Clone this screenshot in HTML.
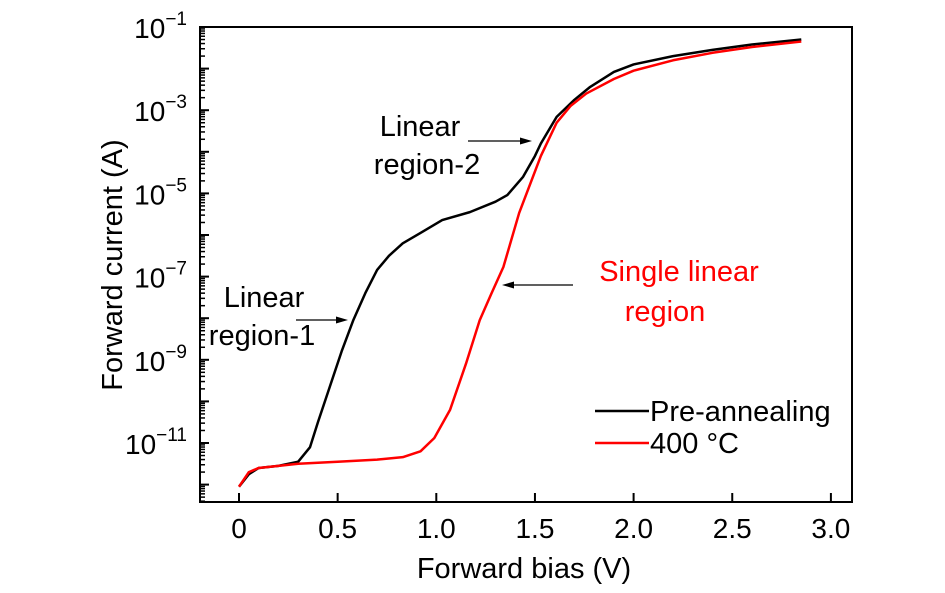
<!DOCTYPE html>
<html><head><meta charset="utf-8"><style>
body{margin:0;background:#fff;}
svg text{font-family:"Liberation Sans",sans-serif;}
</style></head><body>
<svg id="chart" width="945" height="588" xmlns="http://www.w3.org/2000/svg">
<g id="axes"></g>
<g id="series"></g>
<text x="524" y="578" font-size="29" text-anchor="middle">Forward bias (V)</text>
<text transform="translate(122,265) rotate(-90)" font-size="29" text-anchor="middle">Forward current (A)</text>
<g font-size="29" text-anchor="middle">
<text x="420" y="136">Linear</text><text x="427" y="174">region-2</text>
<line x1="468" y1="141" x2="524" y2="141" stroke="#000" stroke-width="1.3"/><polygon points="532,141 520,137.5 520,144.5" fill="#000"/>
</g>
<g font-size="29" text-anchor="middle">
<text x="264" y="307">Linear</text><text x="262" y="345">region-1</text>
<line x1="296" y1="320" x2="340" y2="320" stroke="#000" stroke-width="1.3"/><polygon points="348,320 336,316.5 336,323.5" fill="#000"/>
</g>
<g font-size="29" text-anchor="middle" fill="#f00">
<text x="679" y="281">Single linear</text><text x="665" y="321">region</text>
<line x1="573" y1="285" x2="510" y2="285" stroke="#000" stroke-width="1.3"/><polygon points="502,285 514,281.5 514,288.5" fill="#000"/>
</g>
<g font-size="29">
<line x1="595" y1="411" x2="649" y2="411" stroke="#000" stroke-width="2.5"/>
<text x="650" y="421">Pre-annealing</text>
<line x1="595" y1="443" x2="649" y2="443" stroke="#f00" stroke-width="2.5"/>
<text x="650" y="453">400 °C</text>
</g>
</svg>
<script>
const xTicks=[0,0.5,1.0,1.5,2.0,2.5,3.0];
const xTickLabels=["0","0.5","1.0","1.5","2.0","2.5","3.0"];
const yTickExps=[-1,-3,-5,-7,-9,-11];
const biasV=[0,0.05,0.1,0.2,0.3,0.36,0.4,0.46,0.52,0.58,0.64,0.7,0.76,0.83,0.92,1.03,1.17,1.3,1.36,1.44,1.5,1.53,1.61,1.7,1.78,1.9,2.0,2.2,2.4,2.6,2.85];
const preLogI=[-12.05,-11.75,-11.6,-11.55,-11.45,-11.1,-10.5,-9.65,-8.8,-8.04,-7.4,-6.84,-6.5,-6.2,-5.95,-5.64,-5.45,-5.2,-5.04,-4.6,-4.1,-3.8,-3.16,-2.75,-2.44,-2.08,-1.9,-1.7,-1.55,-1.42,-1.3];
const biasV400=[0,0.05,0.1,0.3,0.5,0.7,0.83,0.92,0.99,1.07,1.15,1.22,1.28,1.34,1.42,1.53,1.61,1.68,1.76,1.9,2.0,2.2,2.4,2.6,2.85];
const a400LogI=[-12.05,-11.7,-11.6,-11.5,-11.45,-11.4,-11.34,-11.2,-10.88,-10.2,-9.1,-8.05,-7.4,-6.77,-5.47,-4.1,-3.3,-2.9,-2.6,-2.25,-2.05,-1.8,-1.62,-1.48,-1.35];

const L=200,R=852,T=27,B=502;
const xS=v=>239+v*197.3;
const yS=e=>27+(-1-e)*41.6;
const NS="http://www.w3.org/2000/svg";
function mk(t,a,p){const e=document.createElementNS(NS,t);for(const k in a)e.setAttribute(k,a[k]);p.appendChild(e);return e;}
const ax=document.getElementById('axes');
const fr=mk('rect',{x:L,y:T,width:R-L,height:B-T,fill:'none',stroke:'#000','stroke-width':2},ax);


xTicks.forEach((v,i)=>{
  const x=xS(v);
  mk('line',{x1:x,y1:B,x2:x,y2:B-9,stroke:'#000','stroke-width':2},ax);
  const t=mk('text',{x:x,y:B+36,'font-size':28,'text-anchor':'middle'},ax);
  t.textContent=xTickLabels[i];
  
  
});
for(let d=-13;d<=-1;d++){
  const y0=yS(d);
  if(y0>=T-0.5&&y0<=B) mk('line',{x1:L,y1:y0,x2:L+9,y2:y0,stroke:'#000','stroke-width':2},ax);
  for(let m=2;m<=9;m++){
    const y=yS(d+Math.log10(m));
    if(y>=T&&y<=B) mk('line',{x1:L,y1:y,x2:L+5,y2:y,stroke:'#000','stroke-width':1.5},ax);
  }
}
yTickExps.forEach(e=>{
  const t=mk('text',{x:187,y:yS(e)+11,'font-size':28,'text-anchor':'end'},ax);
  
  
  t.textContent='10';
  const s=mk('tspan',{dy:-13,'font-size':19},t);
  s.textContent='\u2212'+Math.abs(e);
});
const sg=document.getElementById('series');
function line(xs,ys,c,name){
  const p=mk('polyline',{points:xs.map((v,i)=>xS(v)+','+yS(ys[i])).join(' '),fill:'none',stroke:c,'stroke-width':2.5,'stroke-linejoin':'round'},sg);
  
  
}
line(biasV,preLogI,'#000','pre-annealing-line');
line(biasV400,a400LogI,'#f00','annealed-400c-line');
</script>
</body></html>
